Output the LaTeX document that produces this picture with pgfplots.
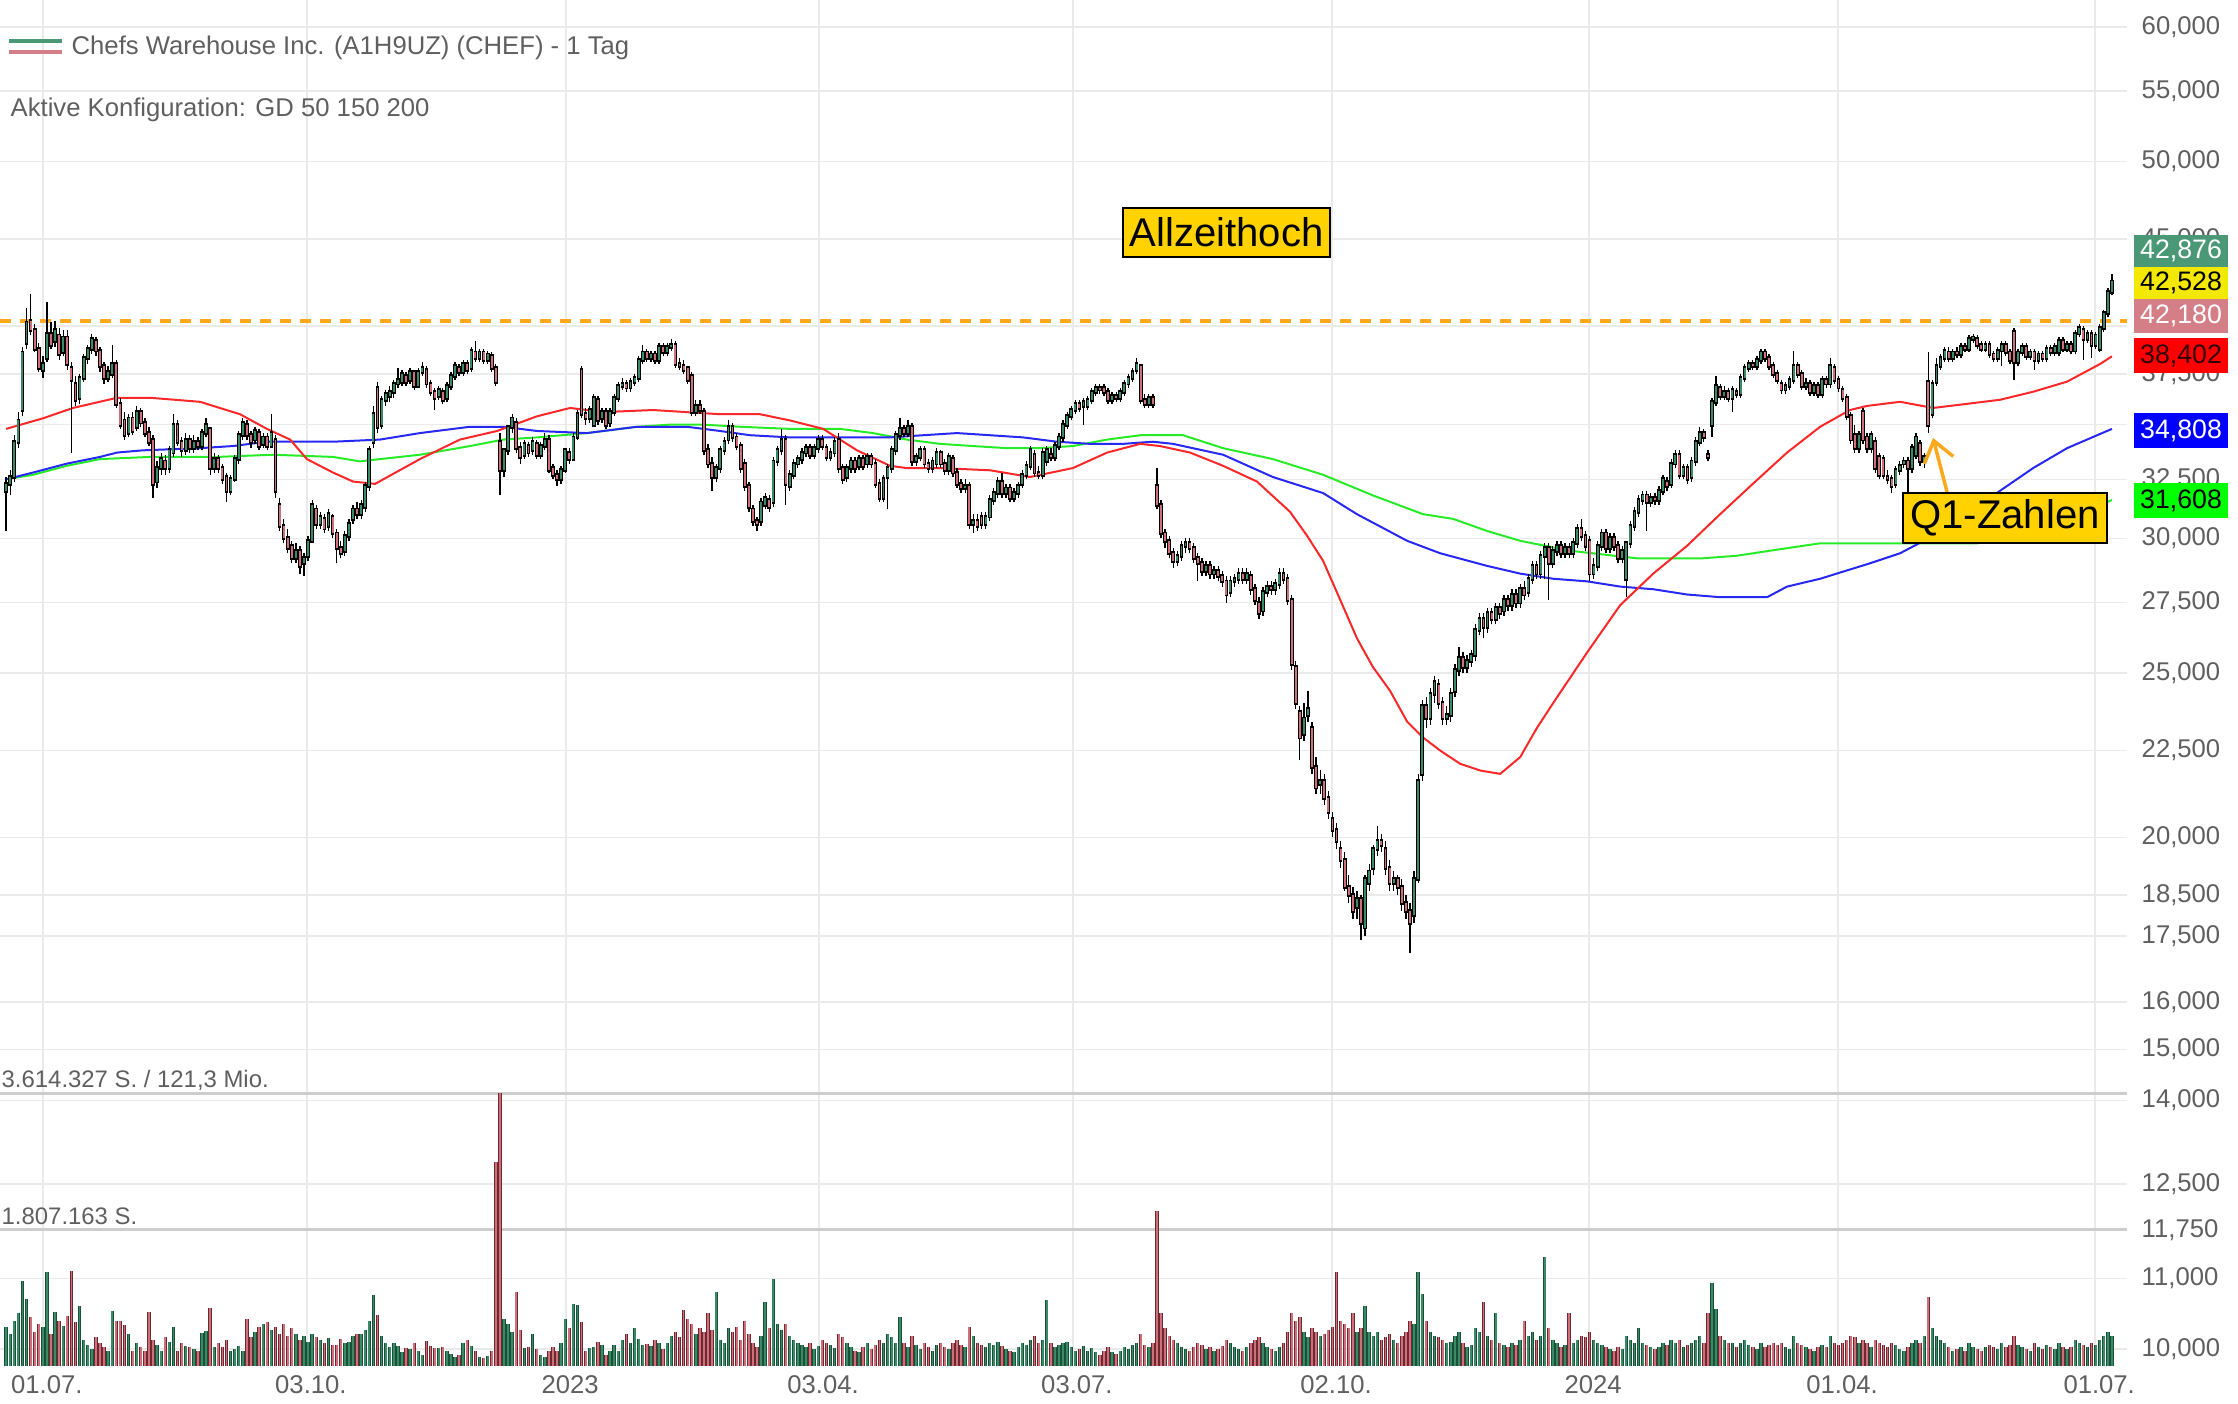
\documentclass[border=0pt]{standalone}
\usepackage{pgfplots}
\pgfplotsset{compat=1.18}
\usepackage{pgfplotstable}
\usepackage{fontspec}
\setmainfont{Liberation Sans}
\usetikzlibrary{arrows.meta}
\definecolor{upc}{RGB}{58,138,104}
\definecolor{dnc}{RGB}{205,112,122}
\definecolor{updk}{RGB}{25,80,55}
\definecolor{dndk}{RGB}{110,40,50}
\definecolor{gridc}{RGB}{234,234,234}
\definecolor{tickc}{RGB}{95,95,95}
\definecolor{sepc}{RGB}{205,205,205}
\definecolor{maA}{RGB}{250,40,40}
\definecolor{maB}{RGB}{40,40,245}
\definecolor{maC}{RGB}{40,235,40}
\definecolor{ath}{RGB}{255,168,30}
\definecolor{goldc}{RGB}{255,210,0}
\definecolor{bA}{RGB}{74,152,118}
\definecolor{bB}{RGB}{242,232,0}
\definecolor{bC}{RGB}{212,126,136}
\definecolor{bD}{RGB}{255,0,0}
\definecolor{bE}{RGB}{0,0,255}
\definecolor{bF}{RGB}{0,255,0}
\newcommand{\ticfont}{\fontsize{7.3}{8.5}\selectfont}
\newcommand{\boxfont}{\fontsize{7.6}{8.5}\selectfont}
\newcommand{\bigfont}{\fontsize{11.4}{13}\selectfont}
\pgfplotstableread{
x o h l c v
0 32.0 32.6 30.3 32.3 520
1 32.3 32.9 31.8 32.6 420
2 32.6 34.5 32.4 34.2 600
3 34.2 35.6 33.9 35.2 700
4 35.7 38.9 35.4 38.6 1130
5 39.1 41.0 38.8 40.2 890
6 40.3 41.8 39.5 39.8 650
7 39.8 40.1 38.6 38.8 450
8 38.8 39.1 37.6 37.8 560
9 37.7 38.4 37.3 38.0 520
10 38.3 41.3 38.1 39.6 1250
11 39.6 40.2 38.8 39.0 420
12 39.2 40.3 38.9 39.8 710
13 39.5 39.9 38.2 38.5 600
14 38.6 39.8 38.4 39.4 530
15 39.4 39.8 37.7 38.0 660
16 37.8 38.1 33.7 37.2 1260
17 37.0 37.4 35.9 36.2 580
18 36.3 37.5 36.0 37.3 800
19 37.3 38.5 37.1 38.3 350
20 38.3 39.0 38.0 38.8 280
21 38.8 39.6 38.5 39.3 220
22 39.2 39.4 38.4 38.7 380
23 38.7 38.9 37.6 37.9 300
24 37.9 38.1 37.0 37.3 250
25 37.3 37.9 37.1 37.6 200
26 37.5 39.0 37.3 38.0 730
27 38.0 38.2 35.8 36.0 600
28 36.0 36.3 34.8 35.0 590
29 35.2 35.6 34.3 34.5 540
30 34.6 35.5 34.4 35.3 420
31 35.3 35.6 34.5 34.7 200
32 34.9 35.9 34.7 35.6 300
33 35.6 35.8 34.9 35.1 250
34 35.1 35.3 34.4 34.6 200
35 34.6 34.9 34.0 34.2 720
36 34.3 34.5 31.7 32.3 350
37 32.4 33.3 32.1 33.0 280
38 33.0 33.7 32.7 33.4 200
39 33.3 33.6 32.7 33.0 380
40 33.0 34.0 32.8 33.8 320
41 33.7 35.5 33.5 35.0 510
42 35.0 35.2 34.0 34.2 200
43 34.2 34.4 33.5 33.8 300
44 33.8 34.6 33.6 34.3 260
45 34.3 34.5 33.7 33.9 250
46 33.9 34.5 33.7 34.2 220
47 34.2 34.4 33.8 34.0 200
48 34.0 34.8 33.8 34.6 440
49 34.6 35.3 34.4 35.0 460
50 34.8 34.9 32.7 33.0 770
51 33.0 33.7 32.8 33.4 250
52 33.4 33.6 32.8 33.0 300
53 33.0 33.2 32.3 32.5 250
54 32.6 32.8 31.5 32.0 340
55 32.0 32.7 31.8 32.5 200
56 32.5 33.6 32.4 33.4 220
57 33.4 34.7 33.2 34.5 260
58 34.5 35.3 34.3 35.1 200
59 35.0 35.2 34.3 34.5 620
60 34.5 34.7 33.9 34.2 380
61 34.3 34.9 34.1 34.7 450
62 34.6 34.8 33.8 34.0 520
63 34.1 34.6 33.9 34.4 550
64 34.4 34.6 33.8 34.0 580
65 34.0 35.5 33.9 34.6 480
66 34.3 34.5 31.7 32.0 520
67 31.4 31.7 30.3 30.5 420
68 30.5 30.8 29.8 30.0 560
69 30.0 30.4 29.4 29.6 400
70 29.7 29.9 29.0 29.2 500
71 29.2 29.8 29.0 29.5 420
72 29.5 29.7 28.6 28.9 350
73 29.0 29.4 28.5 29.2 400
74 29.3 30.1 29.1 29.9 320
75 29.9 31.6 29.8 31.4 420
76 31.2 31.4 30.4 30.6 380
77 30.6 31.1 30.4 30.9 340
78 30.8 31.0 30.2 30.4 300
79 30.5 31.2 30.3 31.0 370
80 30.9 31.0 30.0 30.2 280
81 30.2 30.4 29.0 29.6 280
82 29.6 29.9 29.2 29.4 360
83 29.5 30.3 29.3 30.1 300
84 30.1 30.8 29.9 30.6 320
85 30.8 31.4 30.6 31.2 400
86 31.2 31.5 30.8 31.0 420
87 31.0 31.6 30.8 31.4 430
88 31.3 32.4 31.1 32.2 470
89 32.2 34.0 32.0 33.8 600
90 34.2 35.9 33.9 35.5 940
91 36.8 37.1 34.6 34.9 680
92 35.0 36.4 34.8 36.2 400
93 36.2 36.7 35.9 36.5 300
94 36.4 36.9 36.1 36.6 250
95 36.6 37.2 36.3 37.0 300
96 37.0 37.8 36.8 37.2 260
97 37.1 37.7 36.9 37.5 180
98 37.4 37.6 36.9 37.1 240
99 37.2 37.8 37.0 37.6 230
100 37.6 37.7 36.7 36.9 300
101 36.9 37.8 36.8 37.6 200
102 37.6 38.1 37.4 37.8 150
103 37.7 37.9 36.8 37.0 330
104 37.0 37.2 36.4 36.6 270
105 36.6 36.8 35.7 36.3 240
106 36.4 36.9 36.2 36.7 240
107 36.6 36.8 36.0 36.2 250
108 36.3 37.1 36.1 36.9 200
109 36.9 37.6 36.7 37.4 160
110 37.4 38.1 37.2 37.9 120
111 37.8 38.0 37.4 37.6 150
112 37.6 38.2 37.4 38.0 300
113 38.0 38.2 37.5 37.7 350
114 37.8 38.9 37.6 38.7 260
115 38.6 39.2 38.1 38.3 200
116 38.3 38.8 38.1 38.6 120
117 38.6 38.8 38.0 38.2 100
118 38.2 38.7 38.0 38.5 130
119 38.4 38.6 37.6 37.8 200
120 37.8 38.0 36.9 37.1 2700
121 34.2 34.6 31.8 32.9 3614
122 32.9 33.9 32.6 33.8 620
123 33.8 35.0 33.6 34.9 560
124 34.9 35.5 34.6 35.3 450
125 35.1 35.3 33.7 33.9 975
126 33.9 34.2 33.2 33.5 480
127 33.6 34.3 33.4 34.1 240
128 34.0 34.2 33.5 33.7 250
129 33.8 34.4 33.6 34.2 420
130 34.1 34.3 33.4 33.6 220
131 33.6 34.2 33.4 34.0 150
132 34.0 34.6 33.8 34.3 120
133 34.3 34.5 32.8 32.9 200
134 33.0 33.2 32.5 32.7 250
135 32.7 32.9 32.2 32.5 200
136 32.5 33.1 32.3 32.9 300
137 32.9 33.9 32.8 33.8 620
138 33.7 33.9 33.2 33.4 500
139 33.4 34.6 33.3 34.4 820
140 34.4 35.7 34.3 35.5 806
141 37.7 37.9 35.3 35.5 580
142 35.5 35.8 35.0 35.3 200
143 35.3 35.9 35.1 35.7 240
144 35.0 36.5 34.9 36.3 250
145 36.2 36.4 35.0 35.2 320
146 35.3 35.8 35.1 35.6 280
147 35.6 35.8 34.8 35.0 150
148 35.1 35.8 34.9 35.6 200
149 35.6 36.5 35.4 36.3 280
150 36.3 37.1 36.1 36.9 200
151 36.9 37.3 36.7 37.0 350
152 37.0 37.2 36.6 36.8 420
153 36.8 37.3 36.6 37.1 300
154 37.1 37.5 36.9 37.3 500
155 37.3 38.4 37.1 38.2 360
156 38.2 39.0 38.0 38.6 280
157 38.6 38.8 38.1 38.3 290
158 38.3 38.7 38.1 38.5 260
159 38.5 38.7 38.0 38.2 350
160 38.2 39.1 38.0 38.9 300
161 38.9 39.1 38.4 38.6 220
162 38.6 39.1 38.4 38.9 300
163 38.9 39.3 38.7 39.0 400
164 39.0 39.2 37.8 38.0 450
165 38.0 38.3 37.7 37.9 380
166 37.9 38.2 37.5 37.7 745
167 37.8 37.9 37.0 37.2 620
168 37.4 37.6 35.4 35.6 560
169 35.6 36.2 35.4 35.9 420
170 35.9 36.2 35.5 35.7 500
171 35.6 35.8 33.6 33.8 450
172 33.8 34.1 33.0 33.2 700
173 33.2 33.5 32.0 32.6 470
174 32.6 33.2 32.4 33.0 975
175 33.0 34.0 32.8 33.8 350
176 33.8 34.4 33.6 34.2 300
177 34.3 35.2 34.1 34.9 500
178 34.9 35.1 34.2 34.4 450
179 34.4 34.6 33.8 34.0 520
180 34.0 34.2 32.8 33.0 350
181 33.2 33.4 32.0 32.2 600
182 32.2 32.4 31.1 31.3 420
183 31.2 31.4 30.5 30.7 300
184 30.7 30.9 30.3 30.6 250
185 30.7 31.7 30.5 31.5 400
186 31.4 31.9 31.2 31.7 850
187 31.6 31.8 31.1 31.3 500
188 31.5 33.5 31.3 33.3 1150
189 33.3 34.0 33.1 33.8 560
190 33.8 34.8 33.6 34.3 480
191 34.3 34.5 31.4 32.3 550
192 32.2 32.9 32.0 32.7 400
193 32.7 33.4 32.5 33.2 350
194 33.2 33.6 33.0 33.4 300
195 33.4 33.9 33.2 33.7 280
196 33.7 34.1 33.5 33.9 250
197 33.9 34.1 33.4 33.6 300
198 33.6 34.1 33.4 33.9 220
199 33.9 34.5 33.7 34.3 260
200 34.3 34.5 33.8 34.0 350
201 33.9 34.1 33.3 33.5 300
202 33.5 33.9 33.3 33.7 280
203 33.7 34.4 33.5 34.2 240
204 34.3 34.6 32.8 33.0 420
205 33.0 33.2 32.3 32.5 380
206 32.6 33.2 32.4 33.0 300
207 33.0 33.5 32.8 33.3 250
208 33.3 33.5 32.8 33.0 200
209 33.1 33.6 32.9 33.4 180
210 33.4 33.6 32.9 33.1 250
211 33.2 33.7 33.0 33.5 300
212 33.5 33.7 33.0 33.2 220
213 33.2 33.4 32.1 32.3 280
214 32.3 32.5 31.5 31.7 350
215 31.7 32.7 31.5 32.5 300
216 32.6 33.2 31.2 33.0 420
217 33.0 34.0 32.8 33.8 380
218 33.8 34.7 33.6 34.5 300
219 34.5 35.3 34.3 34.8 650
220 34.8 35.0 34.4 34.6 300
221 34.6 35.2 34.4 34.9 250
222 34.9 35.1 33.1 33.3 400
223 33.3 33.7 33.1 33.5 280
224 33.5 34.0 33.3 33.8 220
225 33.8 34.0 33.0 33.2 300
226 33.2 33.4 32.8 33.0 250
227 33.0 33.5 32.8 33.3 200
228 33.2 33.9 33.0 33.7 280
229 33.7 33.8 33.0 33.2 300
230 33.2 33.4 32.7 32.9 250
231 32.9 33.7 32.7 33.5 220
232 33.4 33.6 32.6 32.8 300
233 32.8 33.0 32.1 32.3 350
234 32.3 32.5 31.9 32.1 280
235 32.1 32.5 31.9 32.2 250
236 32.2 32.4 30.4 30.6 520
237 30.6 31.0 30.2 30.7 400
238 30.7 31.0 30.3 30.5 300
239 30.9 31.1 30.4 30.6 280
240 30.6 31.1 30.4 30.9 250
241 30.9 31.8 30.7 31.6 300
242 31.6 32.1 31.4 31.9 280
243 31.9 32.6 31.7 32.4 320
244 32.4 32.8 31.7 31.9 260
245 31.9 32.3 31.7 32.1 220
246 32.1 32.3 31.5 31.7 200
247 31.7 32.1 31.5 31.9 180
248 31.9 32.4 31.7 32.2 250
249 32.3 32.9 32.1 32.7 300
250 32.7 33.3 32.5 33.1 280
251 33.1 34.0 32.9 33.8 350
252 33.6 33.8 32.6 32.8 400
253 32.8 33.1 32.5 32.7 300
254 32.7 33.9 32.5 33.7 350
255 33.3 34.0 33.1 33.8 875
256 33.6 33.9 33.3 33.5 300
257 33.5 34.2 33.3 34.0 250
258 34.0 34.6 33.8 34.4 280
259 34.4 35.2 34.2 35.0 300
260 35.0 35.6 34.8 35.4 320
261 35.4 35.9 35.2 35.7 250
262 35.7 36.2 35.5 36.0 200
263 36.0 36.2 35.6 35.8 220
264 35.9 36.3 35.0 36.1 260
265 35.9 36.4 35.7 36.2 200
266 36.2 36.8 36.0 36.6 240
267 36.6 37.0 36.4 36.8 180
268 36.8 37.0 36.5 36.7 150
269 36.8 37.0 36.4 36.6 200
270 36.6 36.8 36.0 36.2 250
271 36.2 36.6 36.0 36.4 180
272 36.4 36.6 36.1 36.3 160
273 36.3 36.8 36.1 36.6 200
274 36.6 37.2 36.4 37.0 250
275 37.0 37.5 36.8 37.3 220
276 37.3 37.8 37.1 37.6 280
277 37.7 38.3 37.5 38.0 300
278 37.9 38.0 36.0 36.2 420
279 36.2 36.5 35.8 36.0 280
280 36.0 36.5 35.8 36.3 250
281 36.3 36.5 35.8 36.0 300
282 32.2 33.0 31.2 31.4 2050
283 31.4 31.6 30.0 30.2 700
284 30.2 30.4 29.6 29.9 500
285 29.9 30.1 29.2 29.4 400
286 29.4 29.6 28.8 29.1 350
287 29.1 29.5 28.9 29.3 300
288 29.3 29.9 29.1 29.7 250
289 29.7 30.0 29.4 29.8 220
290 29.8 30.0 29.4 29.6 200
291 29.6 29.8 29.0 29.2 250
292 29.2 29.4 28.3 29.0 300
293 29.0 29.2 28.5 28.7 280
294 28.7 29.1 28.5 28.9 220
295 28.9 29.1 28.4 28.6 250
296 28.6 28.9 28.4 28.7 200
297 28.7 28.9 28.3 28.5 230
298 28.5 28.7 28.1 28.3 260
299 28.3 28.5 27.5 27.8 350
300 27.9 28.5 27.7 28.3 300
301 28.3 28.6 28.1 28.4 250
302 28.4 28.8 28.2 28.6 220
303 28.6 28.8 28.2 28.4 200
304 28.4 28.8 28.2 28.6 250
305 28.5 28.7 27.8 28.0 300
306 28.0 28.2 27.4 27.6 350
307 27.5 27.7 26.9 27.1 380
308 27.2 28.1 27.0 27.9 300
309 27.9 28.3 27.7 28.1 250
310 28.1 28.3 27.8 28.0 220
311 28.0 28.4 27.8 28.2 200
312 28.2 28.8 28.0 28.6 250
313 28.6 28.8 28.2 28.4 300
314 28.4 28.6 27.4 27.6 450
315 27.6 27.8 25.1 25.3 700
316 25.2 25.4 23.8 24.0 600
317 23.7 23.9 22.2 22.9 650
318 23.0 24.0 22.8 23.5 450
319 23.6 24.4 23.4 23.8 380
320 23.2 23.4 21.8 22.0 500
321 22.0 22.3 21.2 21.4 450
322 21.5 21.9 21.2 21.6 400
323 21.6 21.8 20.9 21.1 420
324 21.1 21.3 20.5 20.7 480
325 20.5 20.7 20.0 20.2 520
326 20.2 20.4 19.7 19.9 1250
327 19.7 19.9 19.2 19.4 600
328 19.4 19.6 18.6 18.7 550
329 18.7 19.0 18.3 18.5 500
330 18.5 18.7 17.9 18.1 700
331 18.2 18.6 17.9 18.4 450
332 18.4 18.5 17.4 17.8 500
333 17.7 19.0 17.5 18.9 800
334 18.8 19.3 18.6 19.1 450
335 19.2 19.8 19.0 19.7 400
336 19.7 20.3 19.5 19.9 450
337 19.9 20.1 19.6 19.8 350
338 19.7 19.9 19.0 19.2 380
339 19.2 19.4 18.6 18.8 420
340 18.8 19.1 18.6 18.9 350
341 18.9 19.0 18.5 18.7 300
342 18.7 18.9 18.1 18.3 400
343 18.3 18.5 17.9 18.1 450
344 18.1 18.3 17.1 17.8 600
345 18.0 19.1 17.8 18.9 550
346 18.9 21.8 18.8 21.6 1250
347 21.8 24.1 21.6 23.9 950
348 23.9 24.2 23.2 23.5 600
349 23.5 24.5 23.3 24.3 450
350 24.3 24.9 24.0 24.7 400
351 24.6 24.8 23.8 24.0 380
352 24.0 24.2 23.3 23.5 350
353 23.5 23.9 23.3 23.6 300
354 23.6 24.5 23.4 24.3 320
355 24.4 25.3 24.2 25.1 400
356 25.1 25.9 24.9 25.5 450
357 25.5 25.7 25.0 25.2 300
358 25.2 25.6 25.0 25.4 250
359 25.4 25.8 25.2 25.6 280
360 25.6 26.7 25.4 26.5 500
361 26.5 27.1 26.3 26.9 450
362 26.9 27.1 26.2 26.6 850
363 26.6 27.3 26.4 27.1 400
364 27.1 27.3 26.7 26.9 350
365 26.9 27.5 26.7 27.3 700
366 27.3 27.5 26.9 27.1 300
367 27.2 27.8 27.0 27.6 280
368 27.6 27.8 27.2 27.4 250
369 27.4 28.0 27.2 27.8 300
370 27.8 28.0 27.3 27.5 280
371 27.5 28.2 27.3 28.0 350
372 28.0 28.3 27.6 27.8 600
373 27.9 28.6 27.7 28.4 400
374 28.4 29.1 28.2 28.9 450
375 28.9 29.1 28.4 28.6 350
376 28.6 29.5 28.4 29.3 400
377 29.3 29.8 28.4 29.6 1440
378 29.6 29.8 27.6 29.0 500
379 29.0 29.7 28.8 29.5 350
380 29.5 29.9 29.3 29.7 300
381 29.7 29.9 29.2 29.4 250
382 29.4 29.8 29.2 29.6 280
383 29.6 29.8 29.2 29.4 700
384 29.4 30.0 29.2 29.8 300
385 29.8 30.6 29.6 30.4 350
386 30.4 30.8 29.9 30.1 400
387 30.1 30.3 29.5 29.7 380
388 29.9 30.1 28.3 28.6 450
389 28.6 29.2 28.4 28.9 350
390 28.9 29.9 28.7 29.7 300
391 29.7 30.4 29.5 30.2 280
392 30.2 30.4 29.4 29.6 250
393 29.6 30.2 29.4 30.0 220
394 30.0 30.2 29.5 29.7 200
395 29.7 29.9 29.0 29.2 250
396 29.2 29.7 29.0 29.5 220
397 28.4 29.9 27.7 29.8 400
398 29.8 30.7 29.6 30.5 350
399 30.5 31.3 30.3 31.1 300
400 31.1 31.8 30.9 31.6 500
401 31.6 32.0 31.4 31.8 300
402 31.8 32.0 30.3 31.5 280
403 31.5 31.9 31.3 31.7 250
404 31.7 31.9 31.4 31.6 220
405 31.6 32.2 31.4 32.0 250
406 32.0 32.7 31.8 32.5 300
407 32.4 32.6 32.0 32.2 280
408 32.3 33.4 32.1 33.2 350
409 33.2 33.8 33.0 33.6 300
410 33.6 33.8 32.5 32.7 350
411 32.7 33.2 32.5 33.0 250
412 33.0 33.2 32.3 32.5 280
413 32.6 33.5 32.4 33.3 300
414 33.3 34.4 33.1 34.2 350
415 34.2 34.9 34.0 34.6 400
416 34.6 34.8 34.2 34.4 300
417 33.6 33.8 33.3 33.5 700
418 35.0 36.3 34.4 36.1 1100
419 36.1 37.4 35.9 36.9 750
420 36.8 37.0 36.2 36.4 400
421 36.4 36.9 36.2 36.6 350
422 36.6 36.8 36.1 36.3 300
423 36.3 36.9 35.6 36.7 300
424 36.6 36.8 36.3 36.5 250
425 36.5 37.5 36.3 37.3 300
426 37.3 38.0 37.1 37.8 350
427 37.8 38.2 37.6 38.0 280
428 38.0 38.2 37.7 37.9 250
429 37.9 38.4 37.7 38.2 220
430 38.2 38.8 38.0 38.6 300
431 38.6 38.8 38.1 38.3 250
432 38.3 38.5 37.7 37.9 280
433 37.9 38.1 37.3 37.5 300
434 37.5 37.7 37.0 37.2 280
435 37.0 37.2 36.5 36.7 300
436 36.7 37.1 36.5 36.9 250
437 36.9 37.4 36.7 37.2 220
438 37.2 38.7 37.0 37.9 400
439 37.9 38.1 37.3 37.5 300
440 37.5 37.7 36.7 36.9 280
441 36.9 37.3 36.7 37.0 250
442 37.0 37.2 36.4 36.6 220
443 36.6 37.1 36.4 36.9 200
444 36.9 37.1 36.3 36.5 250
445 36.5 37.4 36.3 37.2 280
446 37.2 37.4 36.8 37.0 250
447 37.0 38.3 36.8 37.9 400
448 37.8 38.0 37.0 37.2 300
449 37.2 37.4 36.6 36.8 280
450 36.7 36.9 36.1 36.3 300
451 36.3 36.5 35.2 35.4 350
452 35.4 35.6 34.1 34.3 400
453 34.5 35.0 33.7 33.9 380
454 33.9 34.7 33.7 34.5 300
455 35.6 35.8 34.1 34.3 350
456 34.4 34.6 33.7 33.9 300
457 33.9 34.7 33.7 34.5 250
458 34.2 34.4 32.8 33.0 350
459 33.5 33.7 32.5 32.7 300
460 33.4 33.6 32.5 32.7 280
461 32.6 32.9 32.3 32.5 250
462 32.5 32.7 31.9 32.2 300
463 32.3 33.1 32.1 32.9 280
464 32.9 33.3 32.7 33.1 220
465 33.2 33.5 33.0 33.3 200
466 33.3 33.5 31.9 33.0 250
467 33.0 34.1 32.8 33.9 300
468 33.6 34.6 33.4 34.4 350
469 34.1 34.3 33.1 33.3 300
470 33.3 33.7 33.0 33.5 400
471 37.1 38.6 34.6 35.0 910
472 35.5 37.2 35.3 37.0 500
473 37.1 38.3 36.9 37.9 400
474 37.9 38.5 37.7 38.3 350
475 38.3 38.9 38.1 38.7 300
476 38.6 38.9 38.1 38.3 250
477 38.3 38.8 38.1 38.6 200
478 38.6 38.9 38.3 38.5 220
479 38.5 39.1 38.3 38.9 250
480 38.9 39.1 38.6 38.8 200
481 38.8 39.5 38.6 39.3 300
482 39.3 39.6 39.1 39.4 250
483 39.3 39.5 38.8 39.0 220
484 39.0 39.2 38.6 38.8 200
485 38.8 39.2 38.6 39.0 250
486 39.0 39.2 38.3 38.5 280
487 38.5 38.7 38.1 38.3 250
488 38.3 38.9 38.1 38.7 220
489 38.7 39.2 37.9 39.0 300
490 39.0 39.2 38.4 38.6 250
491 38.6 38.8 38.0 38.2 280
492 39.7 39.9 37.2 38.1 400
493 38.1 38.8 37.9 38.6 280
494 38.6 39.1 38.4 38.9 250
495 38.9 39.1 38.2 38.4 220
496 38.4 38.8 38.2 38.6 200
497 38.6 38.8 37.7 38.2 300
498 38.2 38.7 38.0 38.5 250
499 38.5 38.7 38.1 38.3 220
500 38.3 39.0 38.1 38.8 280
501 38.8 39.0 38.4 38.6 250
502 38.6 39.1 38.4 38.9 230
503 38.6 39.4 38.4 39.2 300
504 39.2 39.4 38.6 38.8 250
505 38.8 39.2 38.6 39.0 220
506 39.0 39.2 38.5 38.7 250
507 38.7 39.8 38.5 39.6 350
508 39.6 40.1 39.4 39.9 300
509 39.8 40.0 38.2 39.3 280
510 39.3 39.8 39.1 39.6 250
511 39.6 39.8 38.3 39.0 300
512 39.0 39.7 38.8 39.5 280
513 38.8 40.1 38.6 39.9 350
514 39.9 40.9 39.7 40.7 400
515 40.7 42.1 40.5 41.9 450
516 41.9 42.9 41.7 42.5 400
}\ohlc
\pgfplotsset{candle/.style={draw=none, mark=none, forget plot,
  error bars/y dir=plus, error bars/y explicit, error bars/error mark=none}}
\begin{document}
\begin{tikzpicture}
\path[use as bounding box] (0mm,0mm) rectangle (223.8mm,140.4mm);
\begin{axis}[
  at={(0mm,3.8mm)}, anchor=south west,
  width=212.7mm, height=136.6mm, scale only axis,
  xmin=-1.5, xmax=519.7,
  ymode=log, ymin=9.77, ymax=62.24,
  axis line style={draw=none}, tick style={draw=none}, major tick length=0pt,
  xtick={9,73.7,137.2,199.2,261.4,324.9,387.9,448.9,511.9},
  xticklabels={01.07.,03.10.,2023,03.04.,03.07.,02.10.,2024,01.04.,01.07.},
  ytick={10,11,11.75,12.5,14,15,16,17.5,18.5,20,22.5,25,27.5,30,32.5,35,37.5,40,45,50,55,60},
  yticklabels={{10,000},{11,000},{11,750},{12,500},{14,000},{15,000},{16,000},{17,500},{18,500},{20,000},{22,500},{25,000},{27,500},{30,000},{32,500},{},{37,500},{},{45,000},{50,000},{55,000},{60,000}},
  yticklabel pos=right,
  xmajorgrids, ymajorgrids,
  grid style={draw=gridc, line width=0.15mm},
  xticklabel style={font=\ticfont, text=tickc, inner sep=0pt, yshift=-0.9mm, xshift=0.4mm},
  yticklabel style={font=\ticfont, text=tickc, anchor=west, inner sep=0pt, xshift=1.4mm},
]
% all-time high line
\addplot[ath, line width=0.4mm, dash pattern=on 1.1mm off 0.9mm] coordinates {(-1.5,40.3) (519.7,40.3)};
% moving averages
\addplot[maC, line width=0.2mm] coordinates {(0,32.5) (6.6,32.7) (14.9,33.1) (23.0,33.4) (35.3,33.5) (51.7,33.5) (65.4,33.6) (80.1,33.5) (86.7,33.3) (91.6,33.4) (101.4,33.6) (113.7,34.0) (121.8,34.3) (130.1,34.4) (142.3,34.6) (154.6,34.9) (162.7,35.0) (170.8,35.0) (179.8,34.9) (192.1,34.8) (204.3,34.8) (212.4,34.6) (220.7,34.3) (228.8,34.1) (236.9,34.0) (245.3,33.9) (253.3,33.9) (261.4,34.0) (269.8,34.3) (277.9,34.5) (288.4,34.5) (298.2,33.9) (310.4,33.4) (322.7,32.7) (334.9,31.8) (347.2,31.0) (354.6,30.8) (362.9,30.3) (371.0,29.9) (383.2,29.5) (399.6,29.2) (415.8,29.2) (424.1,29.3) (432.2,29.5) (444.5,29.8) (464.1,29.8) (483.0,29.8) (495.9,30.3) (509.2,31.1) (516.0,31.6)};
\addplot[maB, line width=0.2mm] coordinates {(0,32.5) (6.6,32.8) (14.9,33.2) (23.0,33.5) (27.2,33.7) (33.5,33.8) (47.5,33.9) (55.6,34.0) (63.9,34.2) (72.0,34.2) (80.1,34.2) (91.6,34.3) (101.4,34.6) (113.7,34.9) (121.8,34.9) (130.1,34.7) (142.3,34.6) (154.6,34.9) (166.8,34.9) (174.9,34.7) (182.3,34.5) (192.1,34.4) (204.3,34.4) (216.6,34.4) (224.7,34.5) (233.0,34.6) (241.1,34.5) (249.2,34.4) (257.5,34.2) (265.6,34.1) (273.7,34.1) (281.0,34.2) (285.9,34.1) (298.2,33.6) (310.4,32.6) (322.7,31.9) (331.0,31.0) (343.3,29.9) (351.4,29.4) (362.9,28.9) (371.0,28.6) (379.1,28.4) (387.4,28.3) (395.5,28.1) (403.6,28.0) (411.9,27.8) (420.0,27.7) (431.5,27.7) (436.4,28.1) (444.5,28.4) (456.7,29.0) (464.1,29.4) (472.2,30.1) (480.5,31.0) (488.6,32.0) (496.7,33.0) (505.0,33.9) (516.0,34.8)};
\addplot[maA, line width=0.2mm] coordinates {(0,34.8) (9.0,35.3) (16.4,35.8) (27.2,36.3) (35.3,36.3) (47.5,36.1) (57.3,35.5) (63.9,34.8) (69.6,34.3) (73.7,33.4) (80.1,32.8) (85.0,32.4) (90.4,32.3) (101.4,33.4) (111.2,34.3) (120.3,34.7) (130.1,35.4) (138.2,35.8) (146.3,35.6) (158.5,35.7) (174.9,35.5) (184.7,35.5) (192.1,35.2) (200.2,34.8) (208.5,33.8) (216.6,33.1) (220.7,33.0) (228.8,33.0) (241.1,32.9) (250.9,32.6) (261.4,33.0) (269.8,33.7) (277.9,34.1) (282.7,34.0) (290.1,33.7) (298.2,33.1) (306.5,32.4) (314.6,31.1) (318.8,30.1) (322.7,29.1) (326.9,27.6) (331.0,26.2) (334.9,25.2) (339.1,24.4) (343.3,23.4) (347.2,22.9) (351.4,22.5) (356.3,22.1) (361.2,21.9) (366.1,21.8) (371.0,22.3) (375.1,23.2) (379.1,24.0) (387.4,25.7) (395.5,27.4) (403.6,28.6) (411.9,29.7) (420.0,31.0) (428.0,32.3) (436.4,33.7) (444.5,34.9) (451.8,35.7) (456.0,35.9) (464.1,36.1) (472.2,35.8) (480.5,36.0) (488.6,36.2) (496.7,36.6) (505.0,37.1) (513.1,38.0) (516.0,38.4)};
% wicks
\addplot[candle, error bars/error bar style={draw=black, line width=0.13mm}]
  table[x=x, y=l, y error plus expr=\thisrow{h}-\thisrow{l}] {\ohlc};
% up bodies
\addplot[candle, restrict expr to domain={\thisrow{c}-\thisrow{o}}{0:100},
  error bars/error bar style={draw=black, line width=0.37mm, line cap=rect}]
  table[x=x, y=o, y error plus expr=\thisrow{c}-\thisrow{o}] {\ohlc};
\addplot[candle, restrict expr to domain={\thisrow{c}-\thisrow{o}}{0:100},
  error bars/error bar style={draw=upc, line width=0.19mm}]
  table[x=x, y=o, y error plus expr=\thisrow{c}-\thisrow{o}] {\ohlc};
% down bodies
\addplot[candle, restrict expr to domain={\thisrow{c}-\thisrow{o}}{-100:-0.001},
  error bars/error bar style={draw=black, line width=0.37mm, line cap=rect}]
  table[x=x, y=c, y error plus expr=\thisrow{o}-\thisrow{c}] {\ohlc};
\addplot[candle, restrict expr to domain={\thisrow{c}-\thisrow{o}}{-100:-0.001},
  error bars/error bar style={draw=dnc, line width=0.19mm}]
  table[x=x, y=c, y error plus expr=\thisrow{o}-\thisrow{c}] {\ohlc};
\end{axis}
% volume panel
\begin{axis}[
  at={(0mm,3.8mm)}, anchor=south west,
  width=212.7mm, height=136.6mm, scale only axis,
  xmin=-1.5, xmax=519.7, ymin=0, ymax=18085, hide axis,
]
\addplot[sepc, line width=0.3mm] coordinates {(-1.5,3614) (519.7,3614)};
\addplot[sepc, line width=0.3mm] coordinates {(-1.5,1807) (519.7,1807)};
\addplot[ycomb, mark=none, line width=0.34mm, updk, restrict expr to domain={\thisrow{c}-\thisrow{o}}{0:100}] table[x=x, y=v] {\ohlc};
\addplot[ycomb, mark=none, line width=0.18mm, upc, restrict expr to domain={\thisrow{c}-\thisrow{o}}{0:100}] table[x=x, y=v] {\ohlc};
\addplot[ycomb, mark=none, line width=0.34mm, dndk, restrict expr to domain={\thisrow{c}-\thisrow{o}}{-100:-0.001}] table[x=x, y=v] {\ohlc};
\addplot[ycomb, mark=none, line width=0.18mm, dnc, restrict expr to domain={\thisrow{c}-\thisrow{o}}{-100:-0.001}] table[x=x, y=v] {\ohlc};
\end{axis}
% header
\draw[bA, line width=0.35mm] (0.9mm,136.3mm) -- (6.2mm,136.3mm);
\draw[bC, line width=0.35mm] (0.9mm,135.2mm) -- (6.2mm,135.2mm);
\node[anchor=west, inner sep=0pt, font=\ticfont, text=tickc] at (7.1mm,135.6mm) {Chefs Warehouse Inc. (A1H9UZ) (CHEF) - 1 Tag};
\node[anchor=west, inner sep=0pt, font=\ticfont, text=tickc] at (1.0mm,129.4mm) {Aktive Konfiguration: GD 50 150 200};
\node[anchor=west, inner sep=0pt, font=\fontsize{6.8}{8}\selectfont, text=tickc] at (0.1mm,32.4mm) {3.614.327 S. / 121,3 Mio.};
\node[anchor=west, inner sep=0pt, font=\fontsize{6.8}{8}\selectfont, text=tickc] at (0.1mm,18.8mm) {1.807.163 S.};
% annotations
\node[fill=goldc, draw=black, line width=0.15mm, minimum width=20.7mm, minimum height=4.9mm, inner sep=0pt, font=\bigfont] at (122.65mm,117.15mm) {Allzeithoch};
\draw[ath, line width=0.35mm, -{Straight Barb[length=2.0mm, width=3.0mm]}] (194.7mm,91.2mm) -- (193.3mm,96.6mm);
\node[fill=goldc, draw=black, line width=0.15mm, minimum width=20.4mm, minimum height=5.0mm, inner sep=0pt, font=\bigfont] at (200.5mm,88.6mm) {Q1-Zahlen};
% price tags
\node[fill=bA, text=white, minimum width=9.4mm, minimum height=3.2mm, inner sep=0pt, font=\boxfont] at (218.1mm,115.3mm) {42,876};
\node[fill=bB, text=black, minimum width=9.4mm, minimum height=3.2mm, inner sep=0pt, font=\boxfont] at (218.1mm,112.1mm) {42,528};
\node[fill=bC, text=white, minimum width=9.4mm, minimum height=3.4mm, inner sep=0pt, font=\boxfont] at (218.1mm,108.8mm) {42,180};
\node[fill=bD, text=black!80!red, minimum width=9.4mm, minimum height=3.5mm, inner sep=0pt, font=\boxfont] at (218.1mm,104.85mm) {38,402};
\node[fill=bE, text=white, minimum width=9.4mm, minimum height=3.5mm, inner sep=0pt, font=\boxfont] at (218.1mm,97.35mm) {34,808};
\node[fill=bF, text=black, minimum width=9.4mm, minimum height=3.5mm, inner sep=0pt, font=\boxfont] at (218.1mm,90.35mm) {31,608};
\end{tikzpicture}
\end{document}
